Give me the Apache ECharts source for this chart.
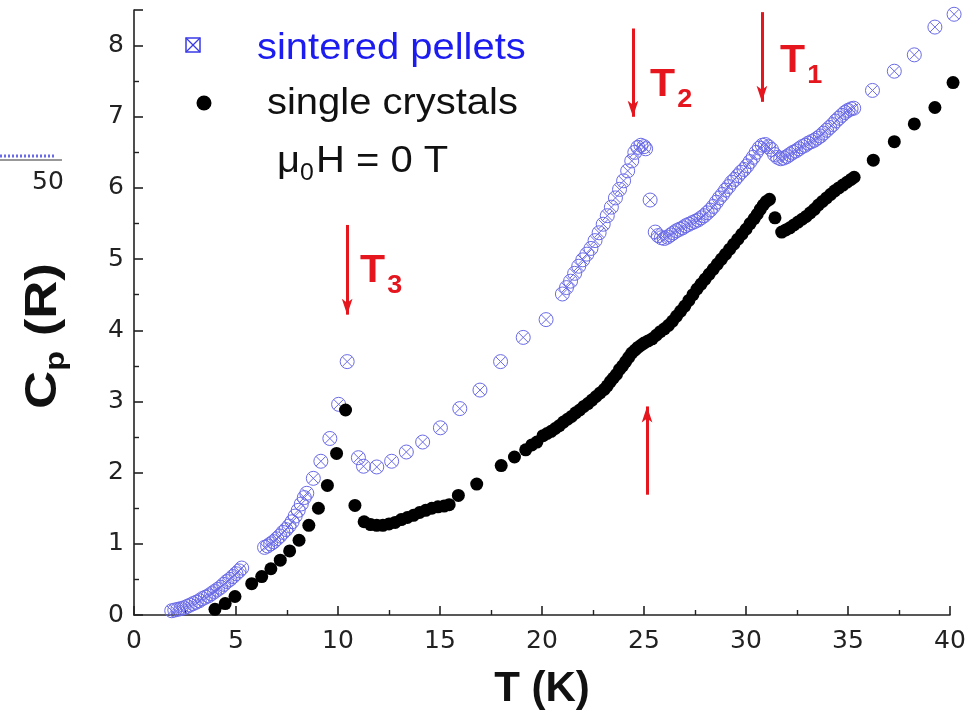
<!DOCTYPE html>
<html>
<head>
<meta charset="utf-8">
<script src="https://cdn.jsdelivr.net/npm/echarts@6/dist/echarts.min.js"></script>
<style>
  html, body { margin: 0; padding: 0; background: #fff; }
  #chart { width: 973px; height: 718px; }
</style>
</head>
<body>
<div id="chart"></div>
<script>
// Specific heat C_p (in units of R) versus temperature T (K), zero field.

// sintered pellets: [T (K), Cp (R)]
const sinteredT = [
  1.85, 2.0, 2.15, 2.3, 2.45, 2.6, 2.75, 2.9, 3.05, 3.2, 3.35, 3.5, 3.65, 3.8, 3.95, 4.1, 4.25, 4.4, 4.55, 4.7, 4.85, 5.0, 5.15, 5.28,
  6.4, 6.55, 6.7, 6.85, 7.0, 7.15, 7.3, 7.45, 7.6, 7.75, 7.9, 8.05, 8.2, 8.35, 8.47, 8.79, 9.16, 9.6, 10.03, 10.45,
  11.0, 11.25, 11.9, 12.63, 13.35, 14.15, 15.02, 15.97, 16.96, 17.97, 19.08, 20.2,
  21.0, 21.2, 21.4, 21.6, 21.8, 22.0, 22.2, 22.4, 22.6, 22.8, 23.0, 23.2, 23.4, 23.6, 23.8, 24.0, 24.2, 24.4, 24.55, 24.7, 24.85, 25.0, 25.08,
  25.3, 25.55, 25.7, 25.85, 26.0, 26.15, 26.3, 26.45, 26.6, 26.75, 26.9, 27.05, 27.2, 27.35, 27.5, 27.65, 27.8, 27.95, 28.1, 28.25, 28.4,
  28.55, 28.7, 28.85, 29.0, 29.15, 29.3, 29.45, 29.6, 29.75, 29.9, 30.05, 30.2, 30.35, 30.5, 30.65, 30.8, 30.95, 31.1, 31.25, 31.4,
  31.55, 31.7, 31.85, 32.0, 32.15, 32.3, 32.45, 32.6, 32.75, 32.9, 33.05, 33.2, 33.35, 33.5, 33.65, 33.8, 33.95, 34.1, 34.25, 34.4,
  34.55, 34.7, 34.85, 35.0, 35.15, 35.28, 36.2, 37.27, 38.25, 39.26, 40.2
];
const sinteredCp = [
  0.06, 0.07, 0.08, 0.09, 0.10, 0.12, 0.14, 0.16, 0.18, 0.20, 0.23, 0.25, 0.27, 0.30, 0.33, 0.36, 0.39, 0.43, 0.47, 0.50, 0.54, 0.58, 0.62, 0.66,
  0.95, 0.97, 1.00, 1.03, 1.07, 1.11, 1.16, 1.20, 1.25, 1.31, 1.39, 1.47, 1.56, 1.65, 1.71, 1.92, 2.16, 2.48, 2.96, 3.56,
  2.21, 2.09, 2.08, 2.16, 2.29, 2.43, 2.63, 2.90, 3.16, 3.56, 3.90, 4.15,
  4.51, 4.60, 4.69, 4.80, 4.90, 4.99, 5.07, 5.15, 5.26, 5.37, 5.49, 5.61, 5.73, 5.86, 5.98, 6.10, 6.24, 6.38, 6.50, 6.57, 6.60, 6.58, 6.55,
  5.83, 5.38, 5.33, 5.30, 5.29, 5.31, 5.34, 5.37, 5.40, 5.42, 5.44, 5.47, 5.49, 5.51, 5.53, 5.55, 5.58, 5.61, 5.65, 5.69, 5.74,
  5.80, 5.86, 5.91, 5.97, 6.02, 6.08, 6.12, 6.17, 6.22, 6.26, 6.31, 6.37, 6.43, 6.50, 6.56, 6.60, 6.61, 6.58, 6.54, 6.47,
  6.43, 6.41, 6.42, 6.44, 6.47, 6.50, 6.52, 6.55, 6.58, 6.60, 6.63, 6.65, 6.67, 6.70, 6.73, 6.77, 6.81, 6.85, 6.89, 6.94,
  6.98, 7.02, 7.06, 7.09, 7.11, 7.12, 7.37, 7.64, 7.87, 8.26, 8.44
];

// single crystals: [T (K), Cp (R)]
const crystalT = [
  3.97, 4.47, 4.95, 5.77, 6.26, 6.71, 7.17, 7.63, 8.09, 8.57, 9.04, 9.48, 9.93, 10.37,
  10.83, 11.28, 11.6, 11.9, 12.2, 12.5, 12.8, 13.1, 13.4, 13.7, 14.0, 14.3, 14.6, 14.9, 15.2, 15.45,
  15.9, 16.8, 18.0, 18.65, 19.2, 19.5, 19.75,
  20.05, 20.25, 20.45, 20.65, 20.85, 21.05, 21.25, 21.45, 21.65, 21.85, 22.05, 22.25, 22.45, 22.65, 22.85, 23.05, 23.2, 23.35, 23.5, 23.65,
  23.8, 23.95, 24.1, 24.25, 24.4, 24.55, 24.7, 24.85, 25.0, 25.2, 25.4, 25.6, 25.8, 26.0, 26.2, 26.4, 26.6, 26.8, 27.0, 27.2,
  27.4, 27.6, 27.8, 28.0, 28.2, 28.4, 28.6, 28.8, 29.0, 29.2, 29.4, 29.6, 29.8, 30.0, 30.2, 30.4, 30.55, 30.7, 30.85, 31.0, 31.15,
  31.42, 31.75, 31.95, 32.15, 32.35, 32.55, 32.75, 32.95, 33.15, 33.35, 33.55, 33.75, 33.95, 34.15, 34.35, 34.55, 34.75, 34.95, 35.15, 35.3,
  36.24, 37.27, 38.25, 39.26, 40.15
];
const crystalCp = [
  0.08, 0.16, 0.26, 0.44, 0.54, 0.65, 0.77, 0.90, 1.05, 1.26, 1.50, 1.82, 2.27, 2.88,
  1.54, 1.31, 1.27, 1.26, 1.26, 1.28, 1.30, 1.34, 1.37, 1.40, 1.44, 1.47, 1.50, 1.52, 1.53, 1.55,
  1.68, 1.84, 2.10, 2.22, 2.32, 2.39, 2.43,
  2.52, 2.55, 2.58, 2.62, 2.66, 2.71, 2.75, 2.79, 2.84, 2.88, 2.93, 2.97, 3.02, 3.07, 3.12, 3.17, 3.22, 3.28, 3.33, 3.38,
  3.45, 3.50, 3.56, 3.62, 3.68, 3.72, 3.76, 3.79, 3.82, 3.85, 3.88, 3.93, 3.98, 4.02, 4.07, 4.13, 4.20, 4.27, 4.34, 4.42,
  4.50, 4.58, 4.65, 4.72, 4.79, 4.86, 4.93, 5.00, 5.07, 5.14, 5.21, 5.28, 5.35, 5.42, 5.50, 5.57, 5.63, 5.70, 5.76, 5.81, 5.84,
  5.58, 5.38, 5.41, 5.44, 5.48, 5.52, 5.56, 5.60, 5.65, 5.70, 5.76, 5.81, 5.86, 5.91, 5.96, 6.00, 6.04, 6.08, 6.12, 6.15,
  6.39, 6.65, 6.90, 7.13, 7.48
];

// transition arrows: [T, Cp at tail, Cp at head]
const arrowT3 = [10.45, 5.48, 4.22];
const arrowT2 = [24.46, 8.24, 7.0];
const arrowT1 = [30.78, 8.47, 7.21];
const arrowUp = [25.15, 1.69, 2.93];

const xTicks = { min: 0, max: 40, step: 5 };
const yTicks = { min: 0, max: 8.5, step: 1 };

const seriesNames = ['sintered pellets', 'single crystals'];

const zip = (xs, ys) => xs.map((x, i) => [x, ys[i]]);
const arrowSeg = a => [{ coord: [a[0], a[1]] }, { coord: [a[0], a[2]] }];

const RED = '#e5161e';
const BLUE_MARK = '#6b6be8';
const BLUE_TEXT = '#1c1cf0';
const FONT = 'Liberation Sans';

const circleX = 'path://M10,0 A10,10 0 1,1 10,20 A10,10 0 1,1 10,0 Z M3,3 L17,17 M17,3 L3,17';

const chart = echarts.init(document.getElementById('chart'), null, { renderer: 'canvas' });

const axisLineStyle = { color: '#222', width: 1.6 };

// slightly widened text used for the key and annotations
const label = (x, y, rich, text, extra) => Object.assign({
  type: 'text', x: x, y: y, scaleX: 1.08,
  style: { text: text, rich: rich, verticalAlign: 'middle' }
}, extra || {});

const tRich = {
  t: { fontFamily: FONT, fontWeight: 'bold', fontSize: 38, fill: RED },
  s: { fontFamily: FONT, fontWeight: 'bold', fontSize: 25, fill: RED, padding: [28, 0, 0, 2] }
};

chart.setOption({
  animation: false,
  backgroundColor: '#fff',
  grid: { left: 134, right: 23, top: 10, bottom: 103 },
  xAxis: {
    type: 'value',
    min: xTicks.min, max: xTicks.max, interval: xTicks.step,
    name: 'T (K)',
    nameLocation: 'middle',
    nameGap: 53,
    nameTextStyle: { fontFamily: FONT, fontWeight: 'bold', fontSize: 42, color: '#111' },
    axisLine: { lineStyle: axisLineStyle },
    axisTick: { inside: true, length: 9, lineStyle: axisLineStyle },
    minorTick: { show: true, splitNumber: 2, length: 5, lineStyle: { color: '#222', width: 1.4 } },
    splitLine: { show: false },
    axisLabel: { fontFamily: 'DejaVu Sans', fontSize: 25, color: '#222', margin: 14 }
  },
  yAxis: {
    type: 'value',
    min: yTicks.min, max: yTicks.max, interval: yTicks.step,
    axisLine: { lineStyle: axisLineStyle },
    axisTick: { inside: true, length: 9, lineStyle: axisLineStyle },
    minorTick: { show: true, splitNumber: 2, length: 5, lineStyle: { color: '#222', width: 1.4 } },
    splitLine: { show: false },
    axisLabel: {
      fontFamily: 'DejaVu Sans', fontSize: 25, color: '#222', margin: 10,
      formatter: v => (Number.isInteger(v) ? String(v) : '')
    }
  },
  series: [
    {
      name: seriesNames[0],
      type: 'scatter',
      clip: false,
      symbol: circleX,
      symbolSize: 14,
      itemStyle: { color: 'rgba(0,0,0,0)', borderColor: BLUE_MARK, borderWidth: 1, opacity: 1 },
      data: zip(sinteredT, sinteredCp),
      z: 2
    },
    {
      name: seriesNames[1],
      type: 'scatter',
      clip: false,
      symbol: 'circle',
      symbolSize: 13,
      itemStyle: { color: '#000', opacity: 1 },
      data: zip(crystalT, crystalCp),
      z: 3,
      markLine: {
        silent: true,
        symbol: ['none', 'arrow'],
        symbolSize: [8, 16],
        lineStyle: { color: RED, width: 3, type: 'solid' },
        itemStyle: { color: RED },
        label: { show: false },
        data: [arrowSeg(arrowT3), arrowSeg(arrowT2), arrowSeg(arrowT1), arrowSeg(arrowUp)]
      }
    }
  ],
  graphic: [
    // y-axis title
    {
      type: 'text', x: 44, y: 336, rotation: Math.PI / 2, scaleX: 1.2,
      style: {
        text: '{c|C}{s|p}{c| (R)}', align: 'center', verticalAlign: 'middle',
        rich: {
          c: { fontFamily: FONT, fontWeight: 'bold', fontSize: 44, fill: '#111' },
          s: { fontFamily: FONT, fontWeight: 'bold', fontSize: 27, fill: '#111', padding: [26, 0, 0, 0] }
        }
      }
    },
    // key: sintered pellets
    {
      type: 'group', x: 193, y: 45,
      children: [
        { type: 'rect', shape: { x: -7, y: -7, width: 14, height: 14 }, style: { fill: 'none', stroke: '#3a3ae6', lineWidth: 1.5 } },
        { type: 'line', shape: { x1: -7, y1: -7, x2: 7, y2: 7 }, style: { stroke: '#3a3ae6', lineWidth: 1.2 } },
        { type: 'line', shape: { x1: 7, y1: -7, x2: -7, y2: 7 }, style: { stroke: '#3a3ae6', lineWidth: 1.2 } }
      ]
    },
    label(257, 49, { a: { fontFamily: FONT, fontSize: 37, fill: BLUE_TEXT } }, '{a|' + seriesNames[0] + '}'),
    // key: single crystals
    { type: 'circle', shape: { cx: 204, cy: 103, r: 7.5 }, style: { fill: '#000' } },
    label(267, 104, { a: { fontFamily: FONT, fontSize: 37, fill: '#111' } }, '{a|' + seriesNames[1] + '}'),
    // field value
    label(277, 162, {
      m: { fontFamily: FONT, fontSize: 37, fill: '#111' },
      s: { fontFamily: FONT, fontSize: 23, fill: '#111', padding: [24, 2, 0, 0] }
    }, '{m|μ}{s|0}{m|H = 0 T}'),
    // transition labels
    label(360, 272, tRich, '{t|T}{s|3}'),
    label(650, 86, tRich, '{t|T}{s|2}'),
    label(780, 62, tRich, '{t|T}{s|1}'),
    // fragment of a neighbouring panel at the left edge
    {
      type: 'line', shape: { x1: 0, y1: 160, x2: 62, y2: 160 },
      style: { stroke: '#333', lineWidth: 1.2 }
    },
    {
      type: 'line', shape: { x1: 0, y1: 156, x2: 54, y2: 156 },
      style: { stroke: '#6a6ae6', lineWidth: 3, lineDash: [2, 2] }
    },
    {
      type: 'text', left: 32, top: 170,
      style: { text: '50', fontFamily: 'DejaVu Sans', fontSize: 25, fill: '#222' }
    }
  ]
});
</script>
</body>
</html>
